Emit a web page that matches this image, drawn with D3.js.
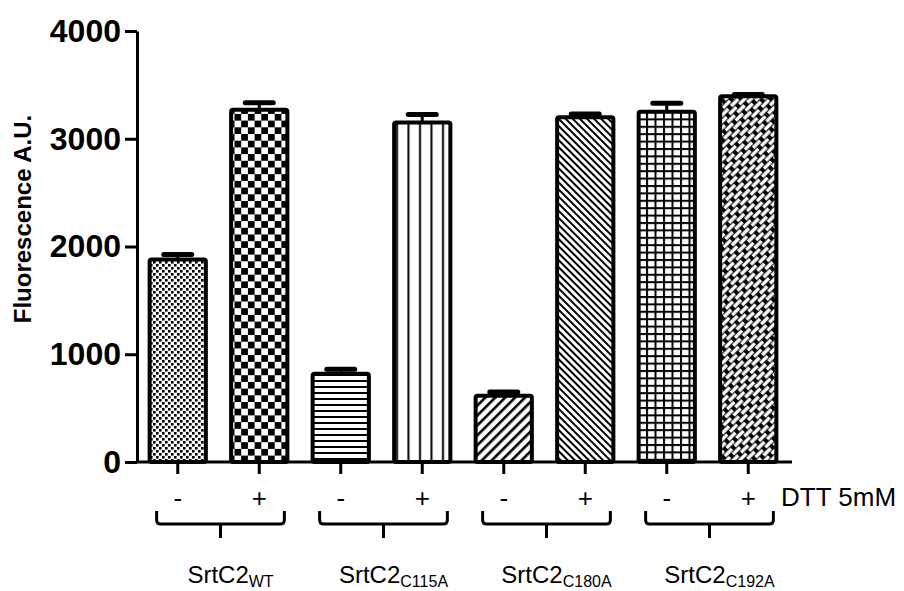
<!DOCTYPE html>
<html>
<head>
<meta charset="utf-8">
<script src="https://cdn.jsdelivr.net/npm/d3@7"></script>
<style>
  body { margin: 0; background: #fff; }
  text { font-family: "Liberation Sans", Arial, sans-serif; }
</style>
</head>
<body>
<svg id="chart" width="904" height="591"></svg>
<script>
    var groups = ["WT", "C115A", "C180A", "C192A"];
    var dtt = ["-", "+"];
    var means = [1880, 3270, 820, 3150, 615, 3200, 3250, 3395];
    var errs = [45, 65, 40, 75, 35, 30, 80, 15];
    var yTicks = [0, 1000, 2000, 3000, 4000];
    var patternIds = ["p-finecheck", "p-check", "p-hlines", "p-vlines",
                      "p-diagup", "p-diagdown", "p-grid", "p-brick"];

    var svg = d3.select("#chart");
    var plotLeft = 137, plotRight = 789, plotTop = 31, plotBottom = 462;

    // bars: one band per (group, dtt) pair
    var bars = [];
    groups.forEach(function (g, gi) {
        dtt.forEach(function (s, si) {
            var i = gi * 2 + si;
            bars.push({ key: g + s, group: g, sign: s, value: means[i], err: errs[i], fill: patternIds[i] });
        });
    });

    var xScale = d3.scaleBand()
        .domain(bars.map(function (d) { return d.key; }))
        .range([plotLeft, plotRight])
        .paddingInner(0.31)
        .paddingOuter(0.155);
    var yScale = d3.scaleLinear().domain([0, 4000]).range([plotBottom, plotTop]);

    // hatch patterns
    var defs = svg.append("defs");
    function pattern(id, w, h, transform) {
        var p = defs.append("pattern")
            .attr("id", id)
            .attr("patternUnits", "userSpaceOnUse")
            .attr("width", w).attr("height", h);
        if (transform) p.attr("patternTransform", transform);
        p.append("rect").attr("width", w).attr("height", h).attr("fill", "#fff");
        return p;
    }
    var p1 = pattern("p-finecheck", 6, 6);
    p1.append("rect").attr("width", 2.6).attr("height", 2.6).attr("fill", "#000");
    p1.append("rect").attr("x", 3).attr("y", 3).attr("width", 2.6).attr("height", 2.6).attr("fill", "#000");

    var p2 = pattern("p-check", 13.4, 13.4);
    p2.append("rect").attr("width", 6.7).attr("height", 6.7).attr("fill", "#000");
    p2.append("rect").attr("x", 6.7).attr("y", 6.7).attr("width", 6.7).attr("height", 6.7).attr("fill", "#000");

    var p3 = pattern("p-hlines", 10, 6);
    p3.append("rect").attr("y", 2).attr("width", 10).attr("height", 2).attr("fill", "#000");

    var p4 = pattern("p-vlines", 11.5, 10);
    p4.append("rect").attr("x", 5).attr("width", 2).attr("height", 10).attr("fill", "#000");

    var p5 = pattern("p-diagup", 7, 10, "rotate(45)");
    p5.append("rect").attr("width", 2.6).attr("height", 10).attr("fill", "#000");

    var p6 = pattern("p-diagdown", 5, 10, "rotate(-45)");
    p6.append("rect").attr("width", 2).attr("height", 10).attr("fill", "#000");

    var p7 = pattern("p-grid", 8.5, 7.4);
    p7.append("rect").attr("width", 2).attr("height", 7.4).attr("fill", "#000");
    p7.append("rect").attr("width", 8.5).attr("height", 2).attr("fill", "#000");

    var p8 = defs.append("pattern")
        .attr("id", "p-brick")
        .attr("patternUnits", "userSpaceOnUse")
        .attr("width", 14).attr("height", 9)
        .attr("patternTransform", "rotate(-45)");
    p8.append("rect").attr("width", 14).attr("height", 9).attr("fill", "#000");
    p8.append("rect").attr("x", 1).attr("y", 0.8).attr("width", 10).attr("height", 3.4).attr("fill", "#fff");
    p8.append("rect").attr("x", 8).attr("y", 5.3).attr("width", 10).attr("height", 3.4).attr("fill", "#fff");
    p8.append("rect").attr("x", -6).attr("y", 5.3).attr("width", 10).attr("height", 3.4).attr("fill", "#fff");

    // Y axis
    var yAxis = svg.append("g")
        .attr("transform", "translate(" + plotLeft + ",0)")
        .call(d3.axisLeft(yScale).tickValues(yTicks).tickFormat(d3.format("d"))
            .tickSize(12).tickSizeOuter(0).tickPadding(4));
    yAxis.selectAll("path, line").attr("stroke", "#000").attr("stroke-width", 3);
    yAxis.selectAll("text")
        .style("font-size", "32px")
        .style("font-weight", "bold")
        .attr("fill", "#000");

    // Y label
    svg.append("text")
        .attr("text-anchor", "middle")
        .attr("transform", "translate(31,219)rotate(-90)")
        .style("font-size", "24px")
        .style("font-weight", "bold")
        .text("Fluorescence A.U.");

    // bars
    svg.append("g")
        .selectAll("rect")
        .data(bars)
        .enter()
        .append("rect")
        .attr("x", function (d) { return xScale(d.key); })
        .attr("y", function (d) { return yScale(d.value); })
        .attr("width", xScale.bandwidth())
        .attr("height", function (d) { return yScale(0) - yScale(d.value); })
        .attr("rx", 2)
        .attr("fill", function (d) { return "url(#" + d.fill + ")"; })
        .attr("stroke", "#000")
        .attr("stroke-width", 4);

    // error bars (upper half only)
    var eb = svg.append("g").selectAll("g")
        .data(bars)
        .enter()
        .append("g");
    eb.append("line")
        .attr("x1", function (d) { return xScale(d.key) + xScale.bandwidth() / 2; })
        .attr("x2", function (d) { return xScale(d.key) + xScale.bandwidth() / 2; })
        .attr("y1", function (d) { return yScale(d.value); })
        .attr("y2", function (d) { return yScale(d.value + d.err); })
        .attr("stroke", "#000")
        .attr("stroke-width", 3);
    eb.append("line")
        .attr("x1", function (d) { return xScale(d.key) + xScale.bandwidth() / 2 - 14; })
        .attr("x2", function (d) { return xScale(d.key) + xScale.bandwidth() / 2 + 14; })
        .attr("y1", function (d) { return yScale(d.value + d.err); })
        .attr("y2", function (d) { return yScale(d.value + d.err); })
        .attr("stroke", "#000")
        .attr("stroke-width", 5)
        .attr("stroke-linecap", "round");

    // X axis with -/+ labels
    var xAxis = svg.append("g")
        .attr("transform", "translate(0," + plotBottom + ")")
        .call(d3.axisBottom(xScale)
            .tickSize(12).tickSizeOuter(0).tickPadding(15)
            .tickFormat(function (k) { return k.slice(-1); }));
    xAxis.select(".domain").attr("d", "M" + plotLeft + ",0H" + (plotRight + 3));
    xAxis.selectAll("path, line").attr("stroke", "#000").attr("stroke-width", 3);
    xAxis.selectAll("text")
        .style("font-size", "26px")
        .attr("fill", "#000");

    svg.append("text")
        .attr("x", 781)
        .attr("y", 506)
        .style("font-size", "26px")
        .text("DTT 5mM");

    // brackets under each pair
    var brackets = svg.append("g").selectAll("g")
        .data(groups)
        .enter()
        .append("g");
    brackets.append("path")
        .attr("d", function (g) {
            var x0 = xScale(g + "-") + 7;
            var x1 = xScale(g + "+") + xScale.bandwidth() - 3;
            var c = (x0 + x1) / 2;
            return "M" + x0 + ",511V520Q" + x0 + ",524 " + (x0 + 4) + ",524H" + (x1 - 4) +
                "Q" + x1 + ",524 " + x1 + ",520V511M" + c + ",524V538";
        })
        .attr("fill", "none")
        .attr("stroke", "#000")
        .attr("stroke-width", 3);

    var labels = brackets.append("text")
        .attr("x", function (g) {
            return (xScale(g + "-") + xScale(g + "+") + xScale.bandwidth()) / 2 + 12;
        })
        .attr("y", 583)
        .attr("text-anchor", "middle")
        .style("font-size", "24px");
    labels.append("tspan").text("SrtC2");
    labels.append("tspan")
        .attr("dy", 4)
        .style("font-size", "16px")
        .text(function (g) { return g; });
</script>
</body>
</html>
